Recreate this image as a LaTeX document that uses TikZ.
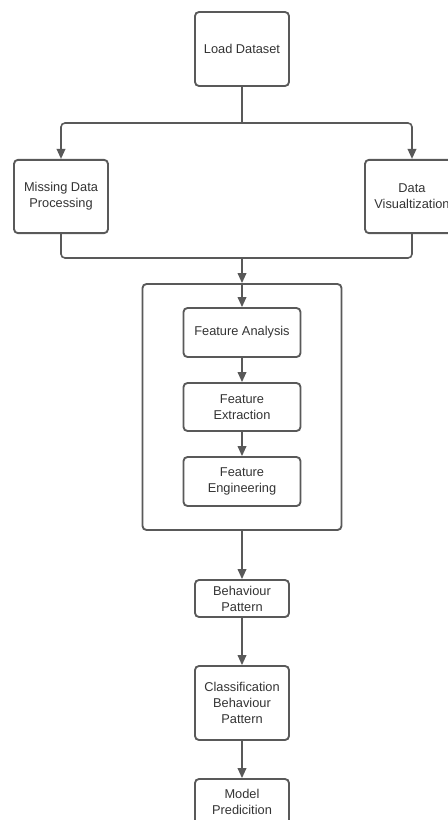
\documentclass[tikz,border=0pt]{standalone}
\usepackage{fontspec}
\setmainfont{Liberation Sans}
\usetikzlibrary{arrows.meta}
\definecolor{linegray}{RGB}{89,89,89}
\definecolor{textgray}{RGB}{51,51,51}
\tikzstyle{process} = [rectangle, rounded corners=3pt,
                       inner sep=0pt, align=center, draw=linegray,
                       text=textgray, line width=1.4pt,
                       font=\fontsize{9.6}{12}\selectfont]
\tikzstyle{arrow} = [draw=linegray, line width=1.2pt, -{Triangle[length=7.5pt,width=6.5pt]}]
\tikzstyle{line} = [draw=linegray, line width=1.2pt]

\begin{document}
\begin{tikzpicture}[x=0.75pt, y=-0.75pt]
        \useasboundingbox (0,0) rectangle (448,820);

        \node (Load) [process, minimum width=70.5pt, minimum height=55.5pt] at (242,49) {Load Dataset};

        %Preprocessing
        \node (Missing) [process, minimum width=70.5pt, minimum height=55pt] at (61,196.5) {Missing Data\\Processing};
        \node (DataViz) [process, minimum width=70.5pt, minimum height=55pt] at (412,196.5) {Data\\Visualtization};

        %Split and merge points
        \coordinate (Split) at (242,123);
        \coordinate (Merge) at (242,258);

        \draw [line] (Load) -- (Split);
        \draw [arrow, rounded corners=3pt] (Split) -| (Missing.north);
        \draw [arrow, rounded corners=3pt] (Split) -| (DataViz.north);
        \draw [line, rounded corners=3pt] (Missing.south) |- (Merge);
        \draw [line, rounded corners=3pt] (DataViz.south) |- (Merge);

        %Feature block
        \node (Features) [process, minimum width=149.25pt, minimum height=184.5pt] at (242,407) {};
        \node (Analysis) [process, minimum width=87.75pt, minimum height=36.75pt] at (242,332.5) {Feature Analysis};
        \node (Extraction) [process, minimum width=87.75pt, minimum height=36pt] at (242,407) {Feature\\Extraction};
        \node (Engineering) [process, minimum width=87.75pt, minimum height=36.75pt] at (242,481.5) {Feature\\Engineering};

        \draw [arrow] (Merge) -- (Features.north);
        \draw [arrow] (Features.north) -- (Analysis.north);
        \draw [arrow] (Analysis) -- (Extraction);
        \draw [arrow] (Extraction) -- (Engineering);

        %Behaviour and prediction
        \node (Behaviour) [process, minimum width=70.5pt, minimum height=27.75pt] at (242,598.5) {Behaviour\\Pattern};
        \node (Classification) [process, minimum width=70.5pt, minimum height=55.5pt] at (242,703) {Classification\\Behaviour\\Pattern};
        \node (Model) [process, minimum width=70.5pt, minimum height=34.5pt] at (242,802) {Model\\Predicition};

        \draw [arrow] (Features) -- (Behaviour);
        \draw [arrow] (Behaviour) -- (Classification);
        \draw [arrow] (Classification) -- (Model);

    \end{tikzpicture}
\end{document}
